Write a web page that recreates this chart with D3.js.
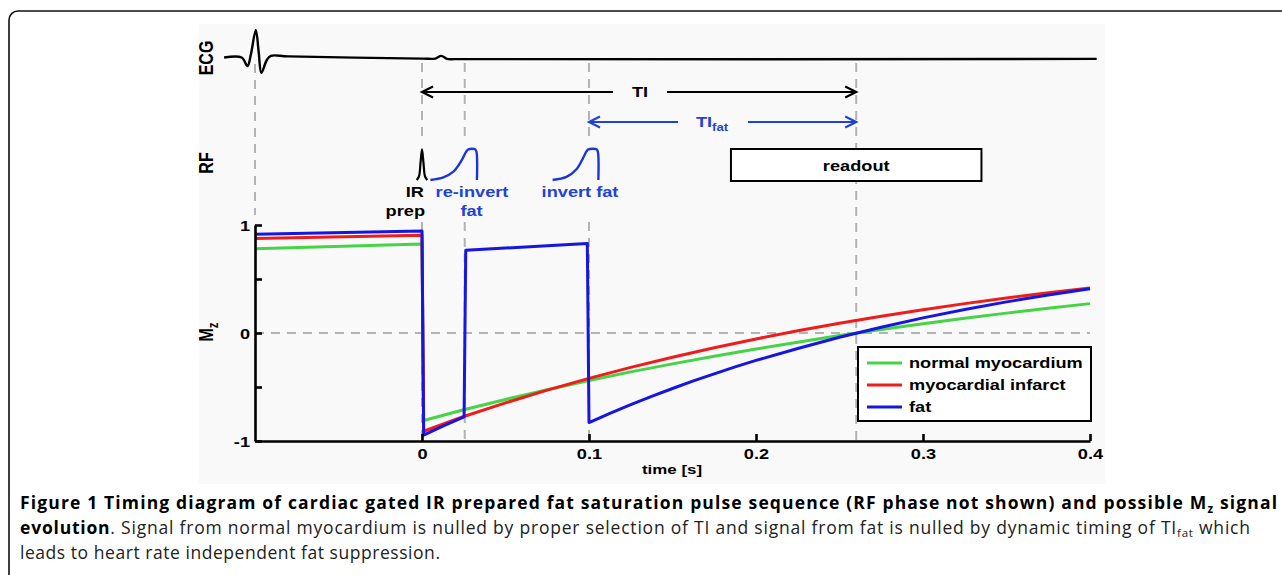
<!DOCTYPE html>
<html><head><meta charset="utf-8">
<script src="https://cdn.jsdelivr.net/npm/d3@7"></script>
<style>body{margin:0;background:#fff;} svg{display:block}</style>
</head><body>
<svg id="c" width="1282" height="575"></svg>
<script>
// ---------------- data ----------------
const timeTicks = [0, 0.1, 0.2, 0.3, 0.4];
const timeTickLabels = ["0", "0.1", "0.2", "0.3", "0.4"];
const mzTicks = [-1, -0.5, 0, 0.5, 1];
const mzTickLabels = ["-1", "", "0", "", "1"];
const seriesNames = ["normal myocardium", "myocardial infarct", "fat"];
const seriesColors = ["#46d346", "#f01c1c", "#1616e0"];
// [time s, Mz]
const normalMyocardium = [[-0.1,0.78],[0,0.825],[0.001,-0.81],[0.025,-0.71],[0.05,-0.615],[0.075,-0.525],[0.1,-0.44],[0.125,-0.36],[0.15,-0.286],[0.175,-0.215],[0.2,-0.148],[0.225,-0.085],[0.25,-0.024],[0.275,0.033],[0.3,0.086],[0.325,0.136],[0.35,0.184],[0.375,0.229],[0.4,0.272]];
const myocardialInfarct = [[-0.1,0.875],[0,0.905],[0.001,-0.91],[0.025,-0.773],[0.05,-0.647],[0.075,-0.529],[0.1,-0.42],[0.125,-0.318],[0.15,-0.224],[0.175,-0.137],[0.2,-0.055],[0.225,0.02],[0.25,0.091],[0.275,0.155],[0.3,0.216],[0.325,0.272],[0.35,0.324],[0.375,0.372],[0.4,0.417]];
const fat = [[-0.1,0.915],[0,0.945],[0.001,-0.945],[0.0128,-0.86],[0.0252,-0.776],[0.0262,0.766],[0.05,0.786],[0.075,0.808],[0.099,0.829],[0.1,-0.829],[0.1125,-0.744],[0.125,-0.664],[0.1375,-0.587],[0.15,-0.514],[0.1625,-0.444],[0.175,-0.378],[0.1875,-0.314],[0.2,-0.254],[0.225,-0.143],[0.25,-0.039],[0.275,0.054],[0.3,0.14],[0.325,0.217],[0.35,0.288],[0.375,0.351],[0.4,0.41]];
// ECG trace [time s, amplitude]
const ecgTrace = [[-0.1185,0],[-0.108,0],[-0.1045,-0.31],[-0.1025,0.1],[-0.0995,1.0],[-0.0978,0.2],[-0.0962,-0.56],[-0.093,-0.1],[-0.0905,0.06],[-0.08,0.04],[0,-0.04],[0.008,-0.04],[0.0115,0.06],[0.015,-0.05],[0.02,-0.06],[0.404,-0.05]];
// RF pulses [time s, amplitude]
const rfIRprep = [[-0.0032,0],[-0.0018,0.12],[-0.0009,0.55],[0,1],[0.0009,0.55],[0.0018,0.12],[0.0032,0]];
const rfReinvertFat = [[0.005,0],[0.0128,0.087],[0.0188,0.27],[0.0238,0.645],[0.0263,0.91],[0.0278,1],[0.0318,1],[0.0326,0.92],[0.0329,0]];
const rfInvertFat = [[0.0782,0],[0.0865,0.1],[0.0925,0.35],[0.0965,0.72],[0.0985,0.93],[0.0996,1],[0.1045,1],[0.1053,0.92],[0.1056,0]];
const eventTimes = [-0.1, 0, 0.0256, 0.1, 0.26];
const tiSpan = [0, 0.26];
const tiFatSpan = [0.1, 0.26];
const readoutWindow = [0.185, 0.335];

// ---------------- layout ----------------
const svg = d3.select("#c");
const SX = 1.3; // horizontal stretch of chart lettering
const FONT = "'Liberation Sans', Arial, sans-serif";
const x = d3.scaleLinear().domain([-0.1, 0.4]).range([255, 1090]);
const y = d3.scaleLinear().domain([-1, 1]).range([441, 225]);
const ecgY = d3.scaleLinear().domain([0, 1]).range([57.5, 30]);
const rfY = d3.scaleLinear().domain([0, 1]).range([180, 149.3]);

// outer frame and chart background
svg.append("rect").attr("x", 9).attr("y", 11).attr("width", 1300).attr("height", 620)
  .attr("rx", 9).attr("fill", "#fff").attr("stroke", "#111").attr("stroke-width", 1.6);
svg.append("rect").attr("x", 199).attr("y", 24).attr("width", 906).attr("height", 460).attr("fill", "#f9f9f9");

function txt(g, px, py, parts, o = {}) {
  const size = o.size || 14, anchor = o.anchor || "start";
  const t = g.append("text")
    .attr("transform", `translate(${px},${py}) scale(${SX},1)` + (o.rotate ? ` rotate(${o.rotate})` : ""))
    .attr("text-anchor", anchor).attr("font-family", FONT).attr("font-weight", "bold")
    .attr("font-size", size).attr("fill", o.color || "#000");
  (Array.isArray(parts) ? parts : [[parts]]).forEach(p => {
    const s = t.append("tspan").text(p[0]);
    if (p[1] === "sub") s.attr("font-size", size * 0.72).attr("dy", size * 0.25);
  });
  return t;
}

const g = svg.append("g");
const dashColor = "#b3b3b3";

// dashed event lines
const segs = [
  [eventTimes[0], 64, 215],
  [eventTimes[1], 63, 142], [eventTimes[1], 222, 441],
  [eventTimes[2], 63, 142], [eventTimes[2], 222, 441],
  [eventTimes[3], 63, 142], [eventTimes[3], 222, 441],
  [eventTimes[4], 63, 441]
];
g.selectAll("line.ev").data(segs).join("line").attr("class", "ev")
  .attr("x1", d => x(d[0])).attr("x2", d => x(d[0])).attr("y1", d => d[1]).attr("y2", d => d[2])
  .attr("stroke", dashColor).attr("stroke-width", 2).attr("stroke-dasharray", "9,7");
// zero line
g.append("line").attr("x1", x(-0.1)).attr("x2", x(0.4)).attr("y1", y(0)).attr("y2", y(0))
  .attr("stroke", dashColor).attr("stroke-width", 2).attr("stroke-dasharray", "9,7");

// ECG
g.append("path").datum(ecgTrace)
  .attr("d", d3.line().x(d => x(d[0])).y(d => ecgY(d[1])).curve(d3.curveCatmullRom.alpha(0.5)))
  .attr("fill", "none").attr("stroke", "#000").attr("stroke-width", 2.4);

// arrows
const blueTxt = "#2142d4";
function arrow(span, yy, color, gapC, gapHalf) {
  const x0 = x(span[0]), x1 = x(span[1]);
  g.append("line").attr("x1", x0).attr("x2", gapC - gapHalf).attr("y1", yy).attr("y2", yy).attr("stroke", color).attr("stroke-width", 2);
  g.append("line").attr("x1", gapC + gapHalf).attr("x2", x1).attr("y1", yy).attr("y2", yy).attr("stroke", color).attr("stroke-width", 2);
  [[x0, -1], [x1, 1]].forEach(([xt, d]) => {
    g.append("path").attr("d", `M${xt - d * 11},${yy - 5.5}L${xt},${yy}L${xt - d * 11},${yy + 5.5}`)
      .attr("fill", "none").attr("stroke", color).attr("stroke-width", 2.2);
  });
}
arrow(tiSpan, 92, "#000", 640, 27);
txt(g, 640, 97, "TI", { anchor: "middle", size: 14 });
arrow(tiFatSpan, 122, blueTxt, 713, 35);
txt(g, 712, 127, [["TI"], ["fat", "sub"]], { anchor: "middle", size: 14, color: blueTxt });

// RF pulses
const rfLine = d3.line().x(d => x(d[0])).y(d => rfY(d[1])).curve(d3.curveCatmullRom.alpha(0.5));
g.append("path").datum(rfIRprep).attr("d", rfLine).attr("fill", "none").attr("stroke", "#000").attr("stroke-width", 2.2);
[rfReinvertFat, rfInvertFat].forEach(p => g.append("path").datum(p).attr("d", rfLine)
  .attr("fill", "none").attr("stroke", "#1e36d0").attr("stroke-width", 2.4));

// readout box
g.append("rect").attr("x", x(readoutWindow[0])).attr("y", 149).attr("width", x(readoutWindow[1]) - x(readoutWindow[0]))
  .attr("height", 32).attr("fill", "#fff").attr("stroke", "#000").attr("stroke-width", 2);
txt(g, (x(readoutWindow[0]) + x(readoutWindow[1])) / 2, 171, "readout", { anchor: "middle", size: 14 });

// RF labels
txt(g, 424, 197, "IR", { anchor: "end", size: 14 });
txt(g, 425, 216, "prep", { anchor: "end", size: 14 });
txt(g, 472, 197, "re-invert", { anchor: "middle", size: 14, color: blueTxt });
txt(g, 471.5, 216, "fat", { anchor: "middle", size: 14, color: blueTxt });
txt(g, 580, 197, "invert fat", { anchor: "middle", size: 14, color: blueTxt });

// row labels
txt(g, 213, 58, "ECG", { anchor: "middle", size: 16, rotate: -90 });
txt(g, 213, 163, "RF", { anchor: "middle", size: 16, rotate: -90 });
txt(g, 213, 332, [["M"], ["z", "sub"]], { anchor: "middle", size: 16, rotate: -90 });

// curves
const mzLine = d3.line().x(d => x(d[0])).y(d => y(d[1])).curve(d3.curveLinear);
[normalMyocardium, myocardialInfarct, fat].forEach((s, i) => g.append("path").datum(s).attr("d", mzLine)
  .attr("fill", "none").attr("stroke", seriesColors[i]).attr("stroke-width", 3).attr("stroke-linejoin", "round"));

// axes
const yAxis = g.append("g").attr("transform", `translate(${x(-0.1)},0)`)
  .call(d3.axisLeft(y).tickValues(mzTicks).tickSizeInner(-7).tickSizeOuter(0).tickPadding(5)
    .tickFormat((d, i) => mzTickLabels[i]));
const xAxis = g.append("g").attr("transform", `translate(0,${y(-1)})`)
  .call(d3.axisBottom(x).tickValues(timeTicks).tickSizeInner(-7).tickSizeOuter(0).tickPadding(8)
    .tickFormat((d, i) => timeTickLabels[i]));
[yAxis, xAxis].forEach(a => {
  a.select(".domain").attr("stroke", "#000").attr("stroke-width", 2.6);
  a.selectAll(".tick line").attr("stroke", "#000").attr("stroke-width", 2.6);
  a.selectAll(".tick text").attr("font-family", FONT).attr("font-weight", "bold").attr("font-size", 14)
    .attr("fill", "#000").attr("transform", `scale(${SX},1)`);
});
yAxis.selectAll(".tick text").attr("x", -5 / SX).attr("dy", "0.36em");
txt(g, 672, 474, "time [s]", { anchor: "middle", size: 13 });

// legend
const lg = g.append("g");
lg.append("rect").attr("x", 858).attr("y", 347).attr("width", 233).attr("height", 74)
  .attr("fill", "#fff").attr("stroke", "#000").attr("stroke-width", 2);
seriesNames.forEach((n, i) => {
  const yy = 363 + i * 22;
  lg.append("line").attr("x1", 867).attr("x2", 902).attr("y1", yy).attr("y2", yy)
    .attr("stroke", seriesColors[i]).attr("stroke-width", 3);
  txt(lg, 909, yy + 5, n, { size: 14 });
});

// caption
const CF = "'Open Sans', 'Noto Sans', sans-serif";
const c1 = svg.append("text").attr("x", 20).attr("y", 509).attr("font-family", CF).attr("font-size", 17.5)
  .attr("font-weight", "bold").attr("fill", "#000").attr("textLength", 1257).attr("lengthAdjust", "spacing");
c1.append("tspan").text("Figure 1 Timing diagram of cardiac gated IR prepared fat saturation pulse sequence (RF phase not shown) and possible M");
c1.append("tspan").text("z").attr("font-size", 11.5).attr("dy", 4);
c1.append("tspan").text(" signal").attr("dy", -4);
const c2 = svg.append("text").attr("x", 20).attr("y", 534).attr("font-family", CF).attr("font-size", 17.5)
  .attr("fill", "#222").attr("textLength", 1230).attr("lengthAdjust", "spacing");
c2.append("tspan").text("evolution").attr("font-weight", "bold").attr("fill", "#000");
c2.append("tspan").text(". Signal from normal myocardium is nulled by proper selection of TI and signal from fat is nulled by dynamic timing of TI");
c2.append("tspan").text("fat").attr("font-size", 11.5).attr("dy", 3);
c2.append("tspan").text(" which").attr("dy", -3);
svg.append("text").attr("x", 20).attr("y", 559).attr("font-family", CF).attr("font-size", 17.5)
  .attr("fill", "#222").attr("textLength", 420).attr("lengthAdjust", "spacing")
  .text("leads to heart rate independent fat suppression.");
</script>
</body></html>
